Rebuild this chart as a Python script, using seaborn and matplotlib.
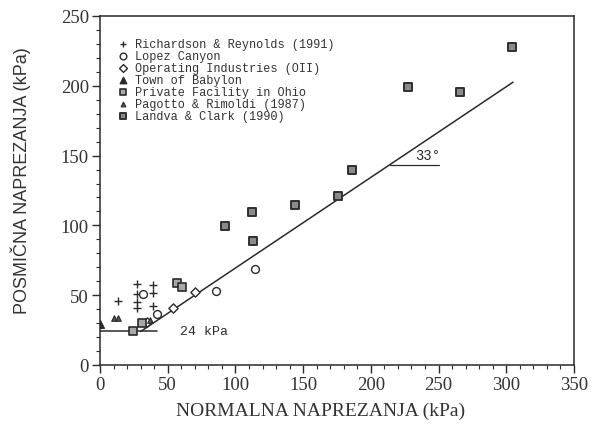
import numpy as np
import pandas as pd
import matplotlib
matplotlib.use("Agg")
import matplotlib.pyplot as plt
import seaborn as sns
from matplotlib.ticker import MultipleLocator

# ---- data ----
series_names = [
    "Richardson & Reynolds (1991)",
    "Lopez Canyon",
    "Operating Industries (OII)",
    "Town of Babylon",
    "Private Facility in Ohio",
    "Pagotto & Rimoldi (1987)",
    "Landva & Clark (1990)",
]
rr_x = [13, 27, 27, 27, 27, 39, 39, 39]
rr_y = [45.6, 58, 51, 45, 40.6, 57, 51.6, 42.5]
lopez_x = [114.5, 86, 42, 32]
lopez_y = [68.8, 53, 36.5, 51]
oii_x = [54, 70, 35]
oii_y = [41, 52, 31]
bab_x = [0]
bab_y = [29]
ohio_x = [56.6, 60.8, 24.6, 31]
ohio_y = [59, 55.6, 24.6, 30]
pag_x = [10, 13, 37]
pag_y = [34, 33.5, 32]
lc_x = [304, 227.5, 266, 186, 176, 144, 112, 92, 113]
lc_y = [228, 199, 195.6, 140, 121, 114.6, 109.6, 99.6, 88.8]

cohesion = 24          # kPa
friction_angle = 33    # degrees
fit_x_range = [30, 305]
cohesion_x_range = [0, 42]

x_ticks = [0, 50, 100, 150, 200, 250, 300, 350]
y_ticks = [0, 50, 100, 150, 200, 250]
x_label = "NORMALNA NAPREZANJA (kPa)"
y_label = "POSMIČNA NAPREZANJA (kPa)"

# ---- style ----
sns.set_style("ticks")
plt.rcParams["font.family"] = ["Liberation Serif", "DejaVu Serif"]
ink = "#2a2a2a"
mono = ["Liberation Mono", "DejaVu Sans Mono"]

fig = plt.figure(figsize=(5.94, 4.27), dpi=100)
ax = fig.add_axes([0.1684, 0.1429, 0.7979, 0.8173])

groups = [
    (rr_x, rr_y, dict(marker="+", s=30, color=ink, linewidth=1.0)),
    (lopez_x, lopez_y, dict(marker="o", s=32, facecolor="white", edgecolor=ink, linewidth=1.0)),
    (oii_x, oii_y, dict(marker="D", s=22, facecolor="white", edgecolor=ink, linewidth=1.0)),
    (bab_x, bab_y, dict(marker="^", s=30, facecolor=ink, edgecolor=ink, linewidth=1.0)),
    (ohio_x, ohio_y, dict(marker="s", s=26, facecolor="#a8a8a8", edgecolor=ink, linewidth=1.2)),
    (pag_x, pag_y, dict(marker="^", s=16, facecolor="#555555", edgecolor=ink, linewidth=0.8)),
    (lc_x, lc_y, dict(marker="s", s=28, facecolor="#8a8a8a", edgecolor="#303030", linewidth=1.4)),
]
for name, (gx, gy, kw) in zip(series_names, groups):
    df = pd.DataFrame({"x": gx, "y": gy})
    sns.scatterplot(data=df, x="x", y="y", ax=ax, label=name, zorder=3, **kw)

# Mohr-Coulomb envelope
fx = np.array(fit_x_range, dtype=float)
fy = cohesion + np.tan(np.radians(friction_angle)) * (fx - fx[0])
fit_df = pd.DataFrame({"x": fx, "y": fy})
sns.lineplot(data=fit_df, x="x", y="y", ax=ax, color=ink, linewidth=1.1, legend=False)
coh_df = pd.DataFrame({"x": cohesion_x_range, "y": [cohesion, cohesion]})
sns.lineplot(data=coh_df, x="x", y="y", ax=ax, color=ink, linewidth=1.1, legend=False)

# angle marker
ang_x0 = 214
ang_y = cohesion + np.tan(np.radians(friction_angle)) * (ang_x0 - fx[0])
ax.plot([ang_x0, 250], [ang_y, ang_y], color=ink, linewidth=0.9)
ax.text(233, ang_y + 2, f"{friction_angle}°", family=mono,
        fontsize=10, color=ink, ha="left", va="bottom")
ax.text(59, cohesion, f"{cohesion} kPa", family=mono,
        fontsize=9.5, color=ink, ha="left", va="center")

ax.set_xlim(0, 350)
ax.set_ylim(0, 250)
ax.set_xticks(x_ticks)
ax.set_yticks(y_ticks)
ax.xaxis.set_minor_locator(MultipleLocator(10))
ax.yaxis.set_minor_locator(MultipleLocator(10))
ax.tick_params(which="major", direction="out", length=6, width=1.0, color=ink,
               labelsize=13.5, labelcolor="#333333", pad=2)
ax.tick_params(which="minor", direction="out", length=3, width=0.8, color=ink)
for sp in ax.spines.values():
    sp.set_color(ink)
    sp.set_linewidth(1.1)

ax.set_xlabel(x_label, fontsize=14, color="#333333", labelpad=2)
ax.set_ylabel(y_label, fontsize=13, color="#333333",
              family=["Liberation Sans", "DejaVu Sans"], labelpad=4)
ax.xaxis.set_label_coords(0.465, -0.105)
ax.yaxis.set_label_coords(-0.145, 0.53)

leg = ax.legend(loc="upper left", bbox_to_anchor=(0.02, 0.957), frameon=False,
                prop={"family": mono, "size": 8.6},
                labelspacing=0.0, handletextpad=0.5, handlelength=1.0,
                borderaxespad=0.2, markerscale=0.85)
for t in leg.get_texts():
    t.set_color("#333333")

fig.savefig("out.png", dpi=100, facecolor="white")
